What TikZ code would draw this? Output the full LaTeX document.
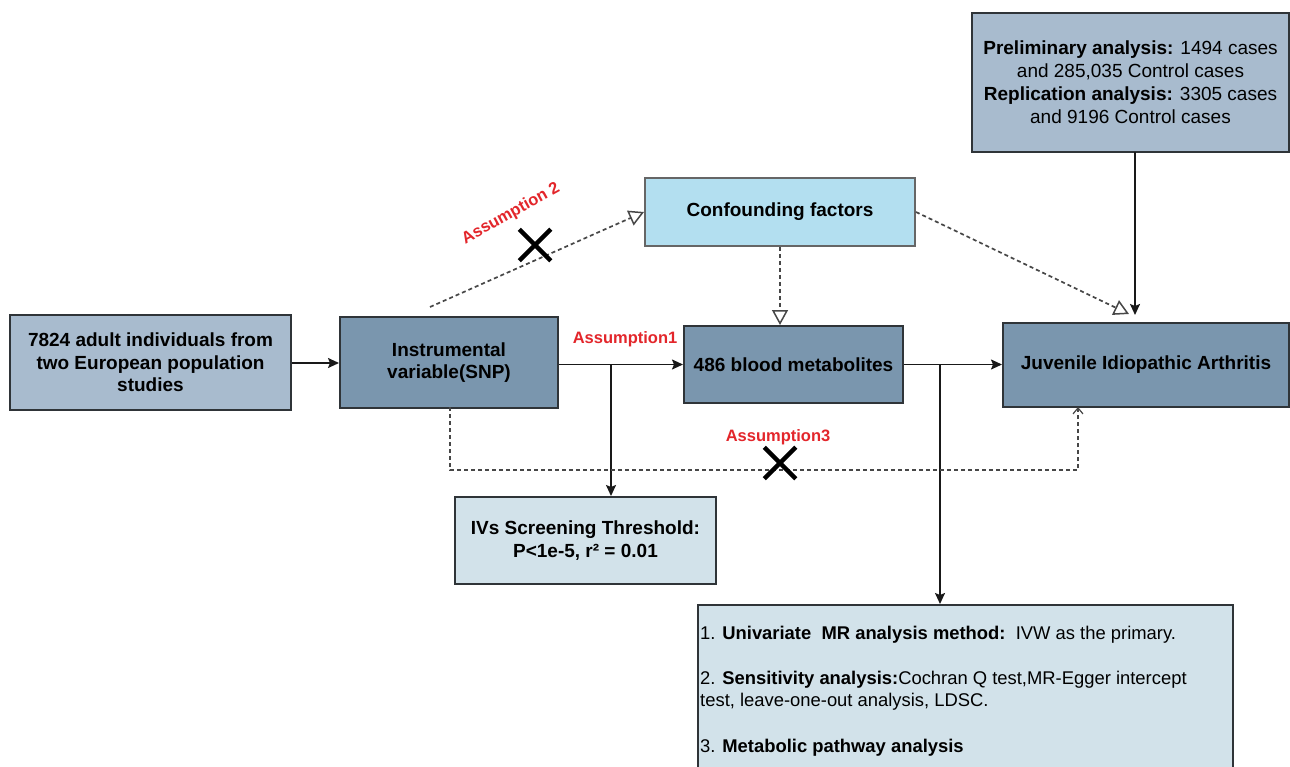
\documentclass[tikz,border=0pt]{standalone}
\usepackage{fontspec}
\setmainfont{Liberation Sans}
\usetikzlibrary{arrows.meta,shapes.misc}
\definecolor{darkbox}{HTML}{7A96AE}
\definecolor{midbox}{HTML}{A8BBCE}
\definecolor{confbox}{HTML}{B3DFF0}
\definecolor{lightbox}{HTML}{D2E2EA}
\definecolor{asred}{HTML}{E3262B}
\definecolor{edge}{HTML}{2F3438}
\begin{document}
\begin{tikzpicture}[x=1pt,y=-1pt,
  box/.style={draw=edge, line width=2pt, inner sep=2pt, align=center,
    font=\fontsize{19}{22.5}\selectfont\bfseries},
  solidarrow/.style={draw=black!90, line width=1.7pt, -{Stealth[length=11pt,width=10pt,inset=2pt]}},
  dasharrow/.style={draw=black!72, line width=1.7pt, dash pattern=on 4pt off 3pt,
    -{Triangle[open,fill=white,length=15pt,width=16pt,line width=1.5pt]}},
  veearrow/.style={draw=black!72, line width=1.6pt, dash pattern=on 4pt off 3pt,
    -{Straight Barb[length=6pt,width=10pt,line width=1.2pt]}},
  assume/.style={text=asred, font=\fontsize{16.5}{18}\selectfont\bfseries},
  crossmark/.style={cross out, draw=black, line width=4.5pt, minimum size=27pt, inner sep=0pt}]
\clip (0,0) rectangle (1290,767);
\fill[white] (0,0) rectangle (1290,767);

% boxes
\node[box, fill=midbox, minimum width=281pt, minimum height=95pt] (pop) at (150.5,362.5)
  {7824 adult individuals from\\two European population\\studies};
\node[box, fill=darkbox, minimum width=218pt, minimum height=91pt] (iv) at (449,362.5)
  {Instrumental\\variable(SNP)};
\node[box, fill=confbox, draw=black!60, minimum width=270pt, minimum height=68pt] (conf) at (780,212)
  {Confounding factors};
\node[box, fill=darkbox, minimum width=219pt, minimum height=77pt] (met) at (793.5,364.5)
  {486 blood metabolites};
\node[box, fill=darkbox, minimum width=286pt, minimum height=84pt] (jia) at (1146,364.5)
  {Juvenile Idiopathic Arthritis};
\node[box, fill=midbox, minimum width=317pt, minimum height=139pt,
  font=\fontsize{19}{23}\selectfont] (gwas) at (1130.5,82.5)
  {\textbf{Preliminary analysis:} 1494 cases\\and 285,035 Control cases\\
   \textbf{Replication analysis:} 3305 cases\\and 9196 Control cases};
\node[box, fill=lightbox, minimum width=261pt, minimum height=87pt] (ivs) at (585.5,540.5)
  {IVs Screening Threshold:\\P<1e-5, r² = 0.01};
\node[box, fill=lightbox, minimum width=535pt, minimum height=190pt, anchor=north west] (mr) at (697,604) {};
\node[anchor=north west, align=left, inner sep=0pt,
  font=\fontsize{18.4}{22}\selectfont] (mrtext) at (700,626)
  {1. \textbf{Univariate\ \ MR analysis method:}\ \ IVW as the primary.\\[23pt]
   2. \textbf{Sensitivity analysis:}Cochran Q test,MR-Egger intercept\\
   test, leave-one-out analysis, LDSC.\\[24pt]
   3. \textbf{Metabolic pathway analysis}};

% coordinates
\coordinate (b1) at (611,364.5);
\coordinate (b2) at (940,364.5);
\coordinate (gs) at (1135,152);
\coordinate (gt) at (1135,315);
\coordinate (ct) at (1129,314);
\coordinate (a2s) at (430,307);
\coordinate (a3s) at (450,407);
\coordinate (a3a) at (450,470);
\coordinate (a3b) at (1078,470);
\coordinate (a3t) at (1078,407);

% solid connectors
\draw[solidarrow] (pop.east |- 0,363) -- (iv.west |- 0,363);
\draw[solidarrow] (iv.east |- met.west) -- (met.west);
\draw[solidarrow] (b1) -- (b1 |- ivs.north);
\draw[solidarrow] (met.east) -- (met.east -| jia.west);
\draw[solidarrow] (b2) -- (b2 |- mr.north);
\draw[solidarrow] (gs) -- (gt);

% dashed connectors
\draw[dasharrow] (a2s) -- (conf.west);
\draw[dasharrow] (conf.south) -- (conf.south |- met.north);
\draw[dasharrow] (conf.east) -- (ct);
\draw[veearrow] (a3s) -- (a3a) -- (a3b) -- (a3t);

% labels and crosses
\node[assume] (as1) at (625,339) {Assumption1};
\node[assume, rotate=29] (as2) at (511,214) {Assumption 2};
\node[assume] (as3) at (778,437) {Assumption3};
\node[crossmark] (x2) at (535,245) {};
\node[crossmark] (x3) at (780,463) {};
\end{tikzpicture}
\end{document}
